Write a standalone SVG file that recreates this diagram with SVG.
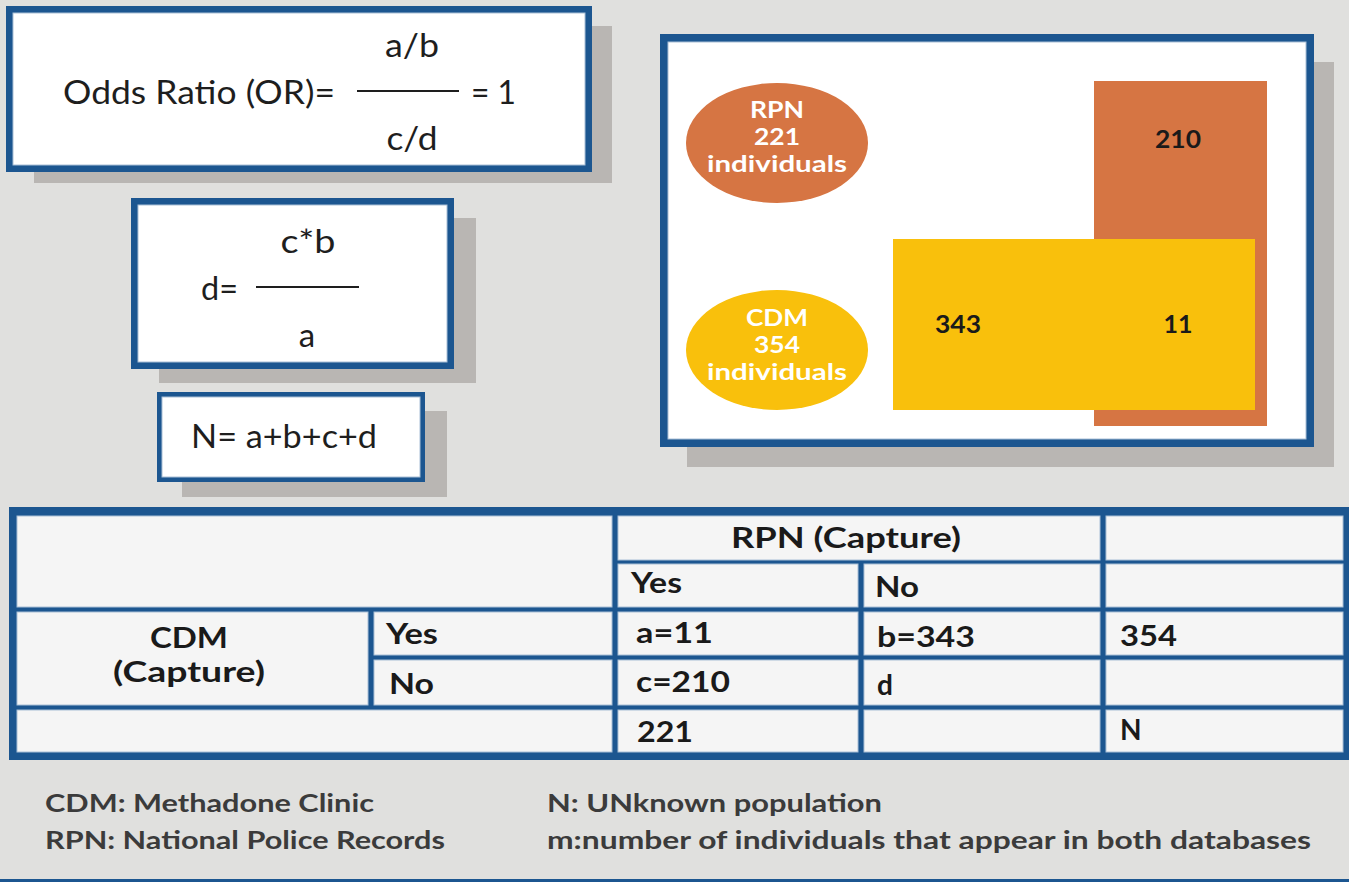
<svg xmlns="http://www.w3.org/2000/svg" width="1349" height="882" viewBox="0 0 1349 882">
<style>
.bg{fill:#e0e0de}
.sh{fill:#b9b6b3}
.bl{fill:#1c5690}
.wh{fill:#ffffff;stroke:#a9bfd6;stroke-width:1}
.cell{fill:#f5f5f5;stroke:#a9bfd6;stroke-width:1}
.f{font-family:Lato,"Open Sans","Liberation Sans",sans-serif;fill:#1e1e1e}
.fr{font-size:33px;font-weight:400}
.vw{font-size:22px;font-weight:700;fill:#ffffff}
.vn{font-size:25px;font-weight:700;fill:#1a1a1a}
.tb{font-size:28px;font-weight:700;fill:#1a1a1a}
.lg{font-size:24px;font-weight:700;fill:#3b3b3b}
.ln{stroke:#1e1e1e;stroke-width:2}
</style>
<rect class="bg" x="0" y="0" width="1349" height="882"/>

<g id="box-or">
<rect class="sh" x="34" y="26" width="578" height="157"/>
<rect class="bl" x="6" y="6" width="586" height="166"/>
<rect class="wh" x="13" y="13" width="572" height="152"/>
<text class="f fr" x="63" y="104" textLength="272" lengthAdjust="spacingAndGlyphs">Odds Ratio (OR)=</text>
<text class="f fr" x="412" y="57" text-anchor="middle" textLength="54" lengthAdjust="spacingAndGlyphs">a/b</text>
<line class="ln" x1="357" y1="91" x2="459" y2="91"/>
<text class="f fr" x="471" y="104" textLength="45" lengthAdjust="spacingAndGlyphs">= 1</text>
<text class="f fr" x="412" y="150" text-anchor="middle" textLength="51" lengthAdjust="spacingAndGlyphs">c/d</text>
</g>

<g id="box-d">
<rect class="sh" x="159" y="218" width="317" height="165"/>
<rect class="bl" x="131" y="198" width="323" height="171"/>
<rect class="wh" x="138" y="205" width="309" height="157"/>
<text class="f fr" x="308" y="253" text-anchor="middle" textLength="55" lengthAdjust="spacingAndGlyphs">c*b</text>
<text class="f fr" x="201" y="300" textLength="37" lengthAdjust="spacingAndGlyphs">d=</text>
<line class="ln" x1="256" y1="287" x2="359" y2="287"/>
<text class="f fr" x="307" y="347" text-anchor="middle">a</text>
</g>

<g id="box-n">
<rect class="sh" x="182" y="411" width="265" height="86"/>
<rect class="bl" x="157" y="392" width="268" height="90"/>
<rect class="wh" x="162" y="397" width="258" height="80"/>
<text class="f fr" x="191" y="448" textLength="186" lengthAdjust="spacingAndGlyphs">N= a+b+c+d</text>
</g>

<g id="venn">
<rect class="sh" x="687" y="62" width="647" height="405"/>
<rect class="bl" x="660" y="34" width="654" height="413"/>
<rect class="wh" x="668" y="42" width="638" height="397"/>
<rect x="1094" y="81" width="173" height="345" fill="#d67543"/>
<rect x="893" y="239" width="362" height="171" fill="#f9c00c"/>
<ellipse cx="777" cy="143" rx="91" ry="60" fill="#d67543"/>
<ellipse cx="777" cy="350" rx="91" ry="60" fill="#f9c00c"/>
<text class="f vw" x="777" y="118" text-anchor="middle" textLength="54" lengthAdjust="spacingAndGlyphs">RPN</text>
<text class="f vw" x="777" y="145" text-anchor="middle" textLength="46" lengthAdjust="spacingAndGlyphs">221</text>
<text class="f vw" x="777" y="172" text-anchor="middle" textLength="140" lengthAdjust="spacingAndGlyphs">individuals</text>
<text class="f vw" x="777" y="326" text-anchor="middle" textLength="62" lengthAdjust="spacingAndGlyphs">CDM</text>
<text class="f vw" x="777" y="353" text-anchor="middle" textLength="46" lengthAdjust="spacingAndGlyphs">354</text>
<text class="f vw" x="777" y="380" text-anchor="middle" textLength="140" lengthAdjust="spacingAndGlyphs">individuals</text>
<text class="f vn" x="1178" y="148" text-anchor="middle" textLength="46" lengthAdjust="spacingAndGlyphs">210</text>
<text class="f vn" x="958" y="333" text-anchor="middle" textLength="46" lengthAdjust="spacingAndGlyphs">343</text>
<text class="f vn" x="1178" y="333" text-anchor="middle" textLength="29" lengthAdjust="spacingAndGlyphs">11</text>
</g>

<g id="table">
<rect class="bl" x="9" y="507" width="1340" height="253"/>
<rect class="cell" x="17" y="516" width="595" height="91"/>
<rect class="cell" x="618" y="516" width="482" height="44"/>
<rect class="cell" x="1106" y="516" width="237" height="44"/>
<rect class="cell" x="618" y="564" width="240" height="43"/>
<rect class="cell" x="864" y="564" width="236" height="43"/>
<rect class="cell" x="1106" y="564" width="237" height="43"/>
<rect class="cell" x="17" y="612" width="351" height="93"/>
<rect class="cell" x="374" y="612" width="238" height="43"/>
<rect class="cell" x="618" y="612" width="240" height="43"/>
<rect class="cell" x="864" y="612" width="236" height="43"/>
<rect class="cell" x="1106" y="612" width="237" height="43"/>
<rect class="cell" x="374" y="660" width="238" height="45"/>
<rect class="cell" x="618" y="660" width="240" height="45"/>
<rect class="cell" x="864" y="660" width="236" height="45"/>
<rect class="cell" x="1106" y="660" width="237" height="45"/>
<rect class="cell" x="17" y="710" width="595" height="42"/>
<rect class="cell" x="618" y="710" width="240" height="42"/>
<rect class="cell" x="864" y="710" width="236" height="42"/>
<rect class="cell" x="1106" y="710" width="237" height="42"/>
<text class="f tb" x="846" y="548" text-anchor="middle" textLength="230" lengthAdjust="spacingAndGlyphs">RPN (Capture)</text>
<text class="f tb" x="631" y="593" textLength="51" lengthAdjust="spacingAndGlyphs">Yes</text>
<text class="f tb" x="875" y="597" textLength="44" lengthAdjust="spacingAndGlyphs">No</text>
<text class="f tb" x="189" y="648" text-anchor="middle" textLength="78" lengthAdjust="spacingAndGlyphs">CDM</text>
<text class="f tb" x="189" y="682" text-anchor="middle" textLength="152" lengthAdjust="spacingAndGlyphs">(Capture)</text>
<text class="f tb" x="386" y="644" textLength="52" lengthAdjust="spacingAndGlyphs">Yes</text>
<text class="f tb" x="389" y="694" textLength="45" lengthAdjust="spacingAndGlyphs">No</text>
<text class="f tb" x="636" y="643" textLength="77" lengthAdjust="spacingAndGlyphs">a=11</text>
<text class="f tb" x="877" y="647" textLength="98" lengthAdjust="spacingAndGlyphs">b=343</text>
<text class="f tb" x="1120" y="646" textLength="57" lengthAdjust="spacingAndGlyphs">354</text>
<text class="f tb" x="636" y="692" textLength="94" lengthAdjust="spacingAndGlyphs">c=210</text>
<text class="f tb" x="877" y="695">d</text>
<text class="f tb" x="637" y="742" textLength="56" lengthAdjust="spacingAndGlyphs">221</text>
<text class="f tb" x="1120" y="740">N</text>
</g>

<g id="legend">
<text class="f lg" x="45" y="812" textLength="329" lengthAdjust="spacingAndGlyphs">CDM: Methadone Clinic</text>
<text class="f lg" x="45" y="849" textLength="400" lengthAdjust="spacingAndGlyphs">RPN: National Police Records</text>
<text class="f lg" x="547" y="812" textLength="335" lengthAdjust="spacingAndGlyphs">N: UNknown population</text>
<text class="f lg" x="547" y="849" textLength="764" lengthAdjust="spacingAndGlyphs">m:number of individuals that appear in both databases</text>
</g>

<rect class="bl" x="0" y="879" width="1349" height="3"/>
</svg>
